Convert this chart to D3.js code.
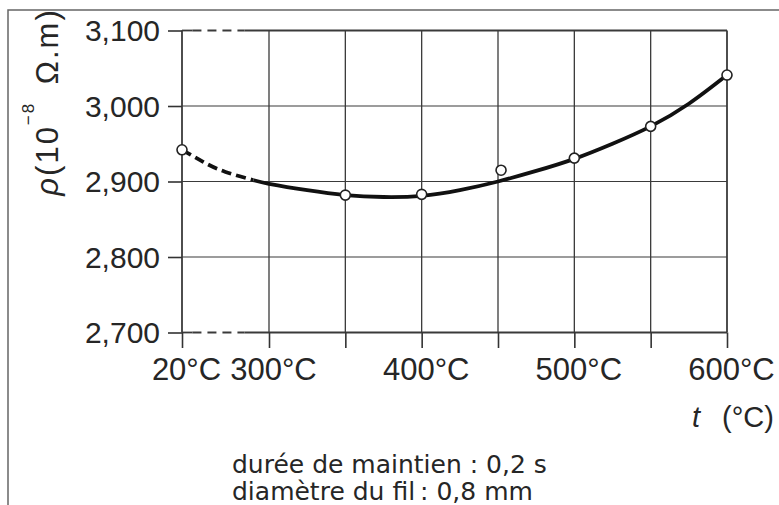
<!DOCTYPE html>
<html><head><meta charset="utf-8">
<script src="https://cdn.jsdelivr.net/npm/d3@7"></script>
<style>body{margin:0;background:#fff}svg{display:block}</style>
</head><body><svg id="c" width="779" height="505"></svg>
<script>
// ---- data ----
const tempTicks = [20, 300, 350, 400, 450, 500, 550, 600];
const tempTickLabels = ["20°C", "300°C", "", "400°C", "", "500°C", "", "600°C"];
const rhoTicks = [2700, 2800, 2900, 3000, 3100];
const rhoTickLabels = ["2,700", "2,800", "2,900", "3,000", "3,100"];
const pointTemp = [20, 350, 400, 452, 500, 550, 600];
const pointRho = [2942, 2882, 2883, 2915, 2931, 2973, 3041];
const curveTemp = [20, 88, 158, 248, 300, 325, 350, 375, 400, 425, 450, 475, 500, 525, 550, 575, 600];
const curveRho = [2942, 2926, 2913, 2902, 2897, 2888.5, 2882, 2879.5, 2881, 2888.5, 2900, 2914, 2930, 2950, 2973, 3003, 3041];
const dashedUntil = 250;
const captionLines = ["durée de maintien : 0,2 s", "diamètre du fil\u2009: 0,8 mm"];

// ---- scales ----
const svg = d3.select("#c");
const x = d3.scaleLinear().domain([20, 300, 600]).range([182, 269, 727]);
const y = d3.scaleLinear().domain([2700, 3100]).range([332.5, 30.5]);
const [rMin, rMax] = y.domain();
const tFirst = tempTicks[0], tLast = tempTicks[tempTicks.length - 1];
const ink = "#262626";

// frame border
svg.append("path").attr("d", "M8,505 V10 H779")
  .attr("fill", "none").attr("stroke", "#666").attr("stroke-width", 1.5);

const grid = svg.append("g").attr("stroke", "#3a3a3a").attr("fill", "none");
// vertical grid lines
grid.selectAll(".vg").data(tempTicks).join("line")
  .attr("x1", d => x(d)).attr("x2", d => x(d))
  .attr("y1", y(rMax)).attr("y2", y(rMin))
  .attr("stroke-width", (d, i) => (i === 0 || i === tempTicks.length - 1) ? 1.8 : 1.3);

// horizontal grid lines (top & bottom broken between 20 and 300)
const xa = x(tFirst) + 0.12 * (x(300) - x(tFirst));
const xb = x(tFirst) + 0.72 * (x(300) - x(tFirst));
rhoTicks.forEach(v => {
  const edge = (v === rMin || v === rMax);
  const sw = edge ? 1.8 : 1.2;
  if (!edge) {
    grid.append("line").attr("x1", x(tFirst)).attr("x2", x(tLast))
      .attr("y1", y(v)).attr("y2", y(v)).attr("stroke-width", sw);
  } else {
    grid.append("line").attr("x1", x(tFirst)).attr("x2", xa).attr("y1", y(v)).attr("y2", y(v)).attr("stroke-width", sw);
    grid.append("line").attr("x1", xa).attr("x2", xb).attr("y1", y(v)).attr("y2", y(v))
      .attr("stroke-width", sw).attr("stroke-dasharray", "9,6");
    grid.append("line").attr("x1", xb).attr("x2", x(tLast)).attr("y1", y(v)).attr("y2", y(v)).attr("stroke-width", sw);
  }
});

// axes
const fontTick = "'Liberation Sans', Arial, sans-serif";
const xAxis = d3.axisBottom(x).tickValues(tempTicks).tickSize(15.5).tickPadding(10)
  .tickFormat((d, i) => tempTickLabels[i]);
const gx = svg.append("g").attr("transform", `translate(0,${y(rMin)})`).call(xAxis);
gx.select(".domain").remove();
gx.selectAll(".tick line").attr("stroke", "#333").attr("stroke-width", 1.6);
gx.selectAll(".tick text").attr("fill", ink).attr("dx", 4)
  .style("font-family", fontTick).style("font-size", "31px");

const yAxis = d3.axisLeft(y).tickValues(rhoTicks).tickSize(14).tickPadding(8)
  .tickFormat((d, i) => rhoTickLabels[i]);
const gy = svg.append("g").attr("transform", `translate(${x(tFirst)},0)`).call(yAxis);
gy.select(".domain").remove();
gy.selectAll(".tick line").attr("stroke", "#333").attr("stroke-width", 1.6);
gy.selectAll(".tick text").attr("fill", ink).attr("dy", "0.34em")
  .style("font-family", fontTick).style("font-size", "30px");

// curve
const pts = curveTemp.map((t, i) => [x(t), y(curveRho[i])]);
const line = d3.line().curve(d3.curveNatural);
const defs = svg.append("defs");
defs.append("clipPath").attr("id", "cDash").append("rect")
  .attr("x", 0).attr("y", 0).attr("width", x(dashedUntil)).attr("height", 505);
defs.append("clipPath").attr("id", "cSolid").append("rect")
  .attr("x", x(dashedUntil)).attr("y", 0).attr("width", 779 - x(dashedUntil)).attr("height", 505);
svg.append("path").attr("d", line(pts)).attr("fill", "none").attr("stroke", "#111")
  .attr("stroke-width", 3.8).attr("stroke-dasharray", "10,5").attr("clip-path", "url(#cDash)");
svg.append("path").attr("d", line(pts)).attr("fill", "none").attr("stroke", "#111")
  .attr("stroke-width", 3.8).attr("clip-path", "url(#cSolid)");

// points
svg.selectAll(".pt").data(pointTemp).join("circle")
  .attr("cx", d => x(d)).attr("cy", (d, i) => y(pointRho[i])).attr("r", 5)
  .attr("fill", "#fff").attr("stroke", "#222").attr("stroke-width", 1.6);

// y-axis title
const yt = svg.append("text").attr("transform", "translate(58,102) rotate(-90)")
  .attr("text-anchor", "middle").attr("fill", ink)
  .style("font-family", fontTick).style("font-size", "31px").style("letter-spacing", "2px");
yt.append("tspan").style("font-style", "italic").text("ρ");
yt.append("tspan").text("(10");
yt.append("tspan").attr("dy", -24).style("font-size", "17px").text("−8");
yt.append("tspan").attr("dy", 24).text("\u2002Ω.m)");

// x-axis title
const xt = svg.append("text").attr("y", 427).attr("fill", ink)
  .style("font-family", fontTick).style("font-size", "29px");
xt.append("tspan").attr("x", x(tLast) - 35).style("font-style", "italic").text("t");
xt.append("tspan").attr("x", x(tLast) - 5).text("(°C)");

// caption
svg.append("g").selectAll("text").data(captionLines).join("text")
  .attr("x", 232).attr("y", (d, i) => 473 + i * 27)
  .attr("fill", ink).style("font-family", "'DejaVu Sans', sans-serif").style("font-size", "25px")
  .text(d => d);
</script></body></html>
